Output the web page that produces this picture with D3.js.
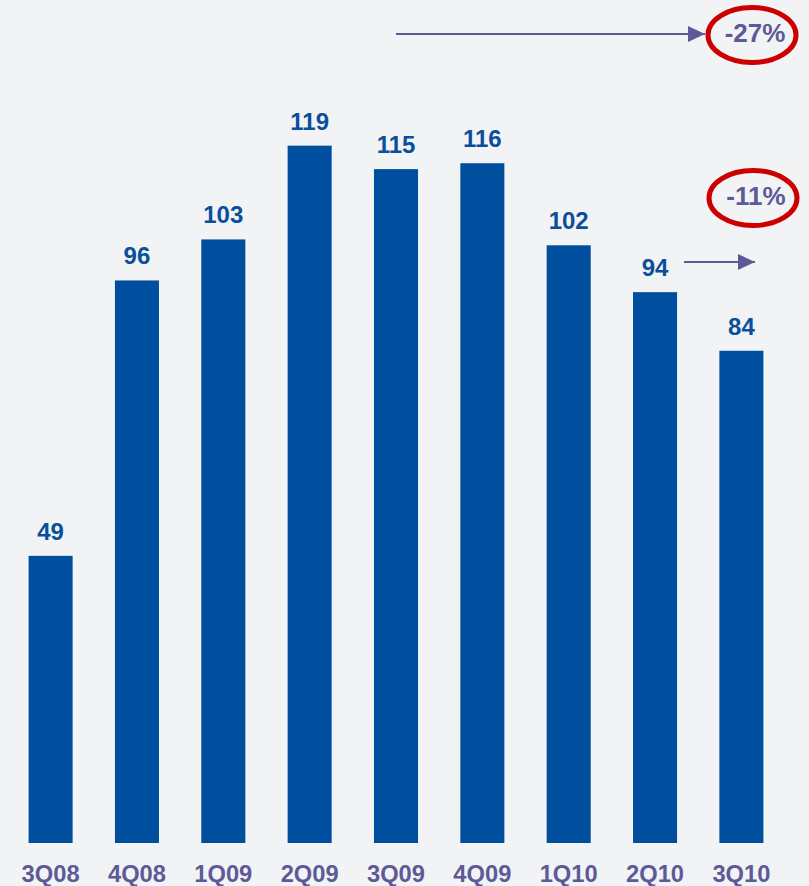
<!DOCTYPE html>
<html>
<head>
<meta charset="utf-8">
<script src="https://cdn.jsdelivr.net/npm/d3@7"></script>
<style>
  html, body { margin: 0; padding: 0; background: #f2f3f5; }
  svg { display: block; font-family: Arial, "Liberation Sans", sans-serif; }
</style>
</head>
<body>
<svg id="chart" width="809" height="886"></svg>
<script>
// Quarterly values
const quarters = ["3Q08", "4Q08", "1Q09", "2Q09", "3Q09", "4Q09", "1Q10", "2Q10", "3Q10"];
const values = [49, 96, 103, 119, 115, 116, 102, 94, 84];
// Change callouts
const changeLabels = ["-27%", "-11%"];

const svg = d3.select("#chart");
const baseY = 843;

const x = d3.scaleBand()
  .domain(quarters)
  .range([7, 785])
  .paddingInner(0.49)
  .paddingOuter(0.25);

const y = d3.scaleLinear()
  .domain([0, 130])
  .range([baseY, baseY - 130 * 5.86]);

const barColor = "#004f9e";
const labelColor = "#0a4f9c";
const purple = "#5e5a98";

svg.append("defs").append("marker")
  .attr("id", "arrowHead")
  .attr("viewBox", "0 0 17 16")
  .attr("refX", 17).attr("refY", 8)
  .attr("markerWidth", 17).attr("markerHeight", 16)
  .attr("markerUnits", "userSpaceOnUse")
  .attr("orient", "auto")
  .append("path")
  .attr("d", "M0,0 L17,8 L0,16 Z")
  .attr("fill", purple);

// Bars
svg.append("g").selectAll("rect")
  .data(values)
  .join("rect")
  .attr("x", (d, i) => x(quarters[i]))
  .attr("y", d => y(d))
  .attr("width", x.bandwidth())
  .attr("height", d => baseY - y(d))
  .attr("fill", barColor);

// Value labels
svg.append("g").selectAll("text")
  .data(values)
  .join("text")
  .attr("x", (d, i) => x(quarters[i]) + x.bandwidth() / 2)
  .attr("y", d => y(d) - 16)
  .attr("text-anchor", "middle")
  .attr("font-size", 24)
  .attr("font-weight", "bold")
  .attr("fill", labelColor)
  .text(d => d);

// Category axis labels
svg.append("g").selectAll("text")
  .data(quarters)
  .join("text")
  .attr("x", d => x(d) + x.bandwidth() / 2)
  .attr("y", 882)
  .attr("text-anchor", "middle")
  .attr("font-size", 24)
  .attr("font-weight", "bold")
  .attr("fill", purple)
  .attr("textLength", 58)
  .attr("lengthAdjust", "spacingAndGlyphs")
  .text(d => d);

// Arrows
const arrows = [
  { x1: 396, x2: 705, y: 34 },
  { x1: 684, x2: 755, y: 262 }
];
svg.append("g").selectAll("line")
  .data(arrows)
  .join("line")
  .attr("x1", d => d.x1).attr("x2", d => d.x2)
  .attr("y1", d => d.y).attr("y2", d => d.y)
  .attr("stroke", purple)
  .attr("stroke-width", 2)
  .attr("marker-end", "url(#arrowHead)");

// Circled change callouts
const callouts = [
  { cx: 752, cy: 35, tx: 755, ty: 42, text: changeLabels[0] },
  { cx: 753, cy: 198, tx: 756, ty: 205, text: changeLabels[1] }
];
const cg = svg.append("g").selectAll("g")
  .data(callouts)
  .join("g");
cg.append("ellipse")
  .attr("cx", d => d.cx).attr("cy", d => d.cy)
  .attr("rx", 44).attr("ry", 27.5)
  .attr("fill", "none")
  .attr("stroke", "#cc0000")
  .attr("stroke-width", 5);
cg.append("text")
  .attr("x", d => d.tx).attr("y", d => d.ty)
  .attr("text-anchor", "middle")
  .attr("font-size", 26)
  .attr("font-weight", "bold")
  .attr("fill", purple)
  .text(d => d.text);
</script>
</body>
</html>
